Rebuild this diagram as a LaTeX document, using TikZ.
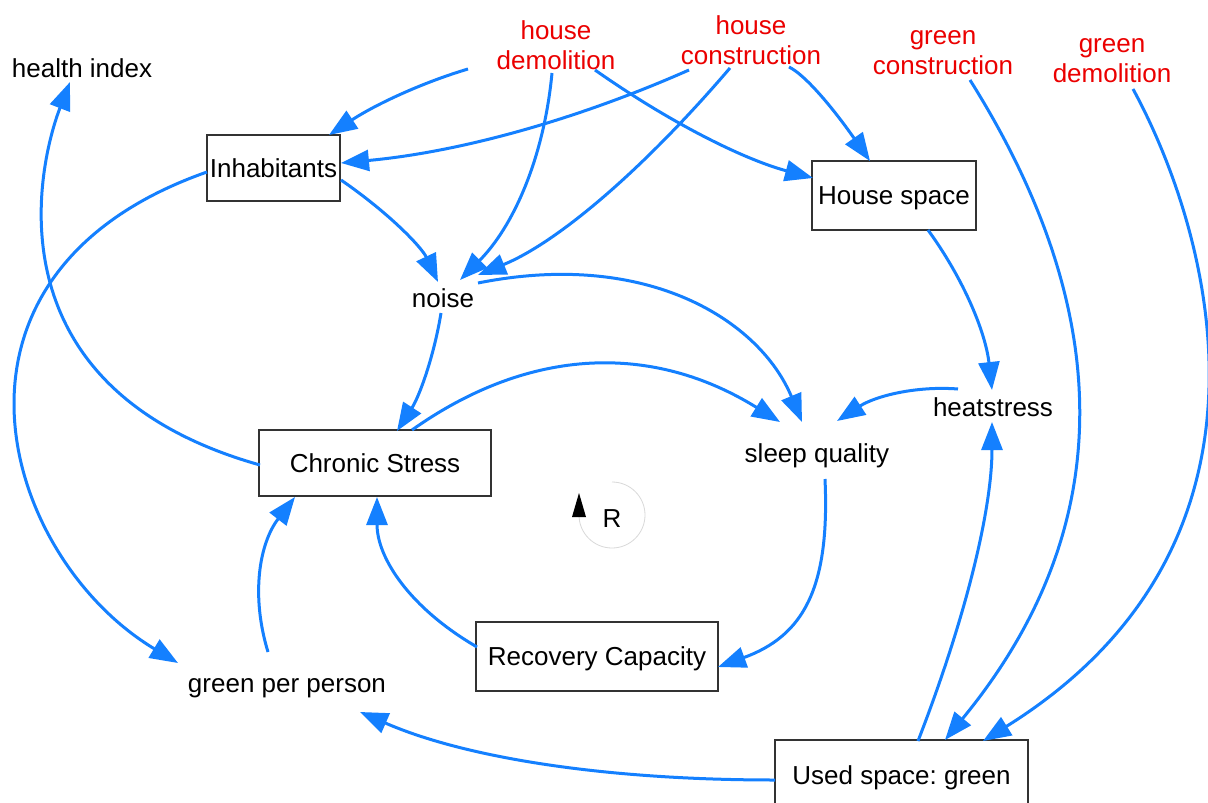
\documentclass[tikz,border=0pt]{standalone}
\usepackage{fontspec}
\setmainfont{Liberation Sans}
\usetikzlibrary{arrows.meta}
\definecolor{lnk}{RGB}{20,128,255}
\definecolor{rd}{RGB}{235,0,0}
\frenchspacing
\begin{document}
\begin{tikzpicture}[x=1pt,y=-1pt,
  every node/.style={font=\fontsize{26}{30}\selectfont, inner sep=0pt},
  one/.style={text height=18.6pt, text depth=0pt},
  box/.style={one, draw=black!80, line width=1.4pt},
  redtxt/.style={text=rd, align=center},
  link/.style={draw=lnk, line width=3pt, -{Triangle[length=28pt,width=21pt]}}]
\useasboundingbox (0,0) rectangle (1208,803);
\fill[white] (0,0) rectangle (1208,803);
% nodes
\node[one] (hi) at (82,67.7) {health index};
\node[redtxt] (hd) at (556,45) {house\\demolition};
\node[redtxt] (hc) at (751,40) {house\\construction};
\node[redtxt] (gc) at (943,53) {green\\construction};
\node[redtxt] (gd) at (1112,61) {green\\demolition};
\node[box, minimum width=133pt, minimum height=66pt] (inh) at (273.5,168) {Inhabitants};
\node[box, minimum width=164pt, minimum height=69pt] (hs) at (894,195.5) {House space};
\node[one] (noise) at (443,297.7) {noise};
\node[box, minimum width=232pt, minimum height=66pt] (cs) at (375,463) {Chronic Stress};
\node[one] (sq) at (817,452.7) {sleep quality};
\node[one] (heat) at (993,407) {heatstress};
\node[box, minimum width=242pt, minimum height=69pt] (rc) at (597,656.5) {Recovery Capacity};
\node[one] (gpp) at (287,683) {green per person};
\node[box, minimum width=253pt, minimum height=70pt] (used) at (901.5,775) {Used space: green};
\coordinate (src) at (468,69);
% loop marker
\coordinate (Rc) at (612,515);
\node (R) at (612,519) {R};
\draw[gray!30, line width=0.8pt] ([shift={(0,-33)}]Rc) arc[start angle=-90, end angle=180, radius=33];
\fill[black] ([shift={(-40,2)}]Rc) -- ([shift={(-26,2)}]Rc) -- ([shift={(-33,-22)}]Rc) -- cycle;
% connectors
\draw[link] (src) .. controls (421,83) and (374.7,105) .. ([shift={(55.5,-33)}]inh.center);
\draw[link] ([shift={(-62,30)}]hc.center) .. controls (573,121.3) and (457,152.3) .. ([shift={(67.5,-5)}]inh.center);
\draw[link] ([shift={(-4,28)}]hd.center) .. controls (544,157.7) and (513.3,226.7) .. ([shift={(17,-17.7)}]noise.center);
\draw[link] ([shift={(39,25)}]hd.center) .. controls (671,123.3) and (743.7,159.3) .. ([shift={(-81,-17.5)}]hs.center);
\draw[link] ([shift={(-21,28)}]hc.center) .. controls (638.7,174.7) and (554.7,243.7) .. ([shift={(35,-22.7)}]noise.center);
\draw[link] ([shift={(38,27)}]hc.center) .. controls (804.3,74.3) and (831.3,105.7) .. ([shift={(-24,-34.5)}]hs.center);
\draw[link] ([shift={(67.5,12)}]inh.center) .. controls (389.4,213.3) and (421.7,247.3) .. ([shift={(-5,-15.7)}]noise.center);
\draw[link] ([shift={(35,-14.7)}]noise.center) .. controls (648,249) and (760,321) .. ([shift={(-15,-30.7)}]sq.center);
\draw[link] ([shift={(-2,15.3)}]noise.center) .. controls (433.7,357.7) and (419,397) .. ([shift={(22,-32)}]cs.center);
\draw[link] ([shift={(37,-33)}]cs.center) .. controls (530.7,346) and (653.3,343.3) .. ([shift={(-37,-30.7)}]sq.center);
\draw[link] ([shift={(-35,-18)}]heat.center) .. controls (915.3,385.7) and (875,396.3) .. ([shift={(20,-31.7)}]sq.center);
\draw[link] ([shift={(34,34.5)}]hs.center) .. controls (964.4,280) and (985.7,333.3) .. ([shift={(-1,-17)}]heat.center);
\draw[link] ([shift={(8,26.3)}]sq.center) .. controls (830,589) and (803,636) .. ([shift={(121,10.5)}]rc.center);
\draw[link] ([shift={(-120,-9.5)}]rc.center) .. controls (410.3,608.3) and (377,558.3) .. ([shift={(2,34)}]cs.center);
\draw[link] ([shift={(-19,-31)}]gpp.center) .. controls (250.5,594.7) and (259.5,543) .. ([shift={(-80,34)}]cs.center);
\draw[link] ([shift={(-115,2)}]cs.center) .. controls (-15,387.6) and (38.5,163.4) .. ([shift={(-12,14.3)}]hi.center);
\draw[link] ([shift={(-66.5,4)}]inh.center) .. controls (-84,274) and (1.4,557) .. ([shift={(-109,-20)}]gpp.center);
\draw[link] ([shift={(-126.5,5)}]used.center) .. controls (602.3,780) and (464,757.3) .. ([shift={(73,29)}]gpp.center);
\draw[link] ([shift={(16.5,-34)}]used.center) .. controls (967.3,613.7) and (992,507.3) .. ([shift={(-1,15)}]heat.center);
\draw[link] ([shift={(27,27)}]gc.center) .. controls (1105,295) and (1130,515) .. ([shift={(43.5,-35)}]used.center);
\draw[link] ([shift={(21,28)}]gd.center) .. controls (1205,221) and (1306,539.6) .. ([shift={(81.5,-34)}]used.center);
\end{tikzpicture}
\end{document}
